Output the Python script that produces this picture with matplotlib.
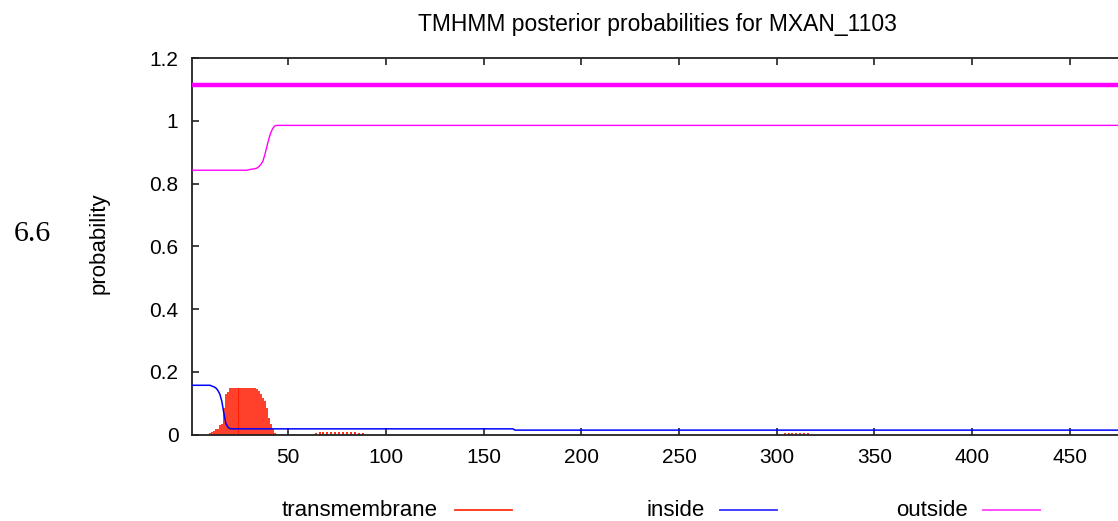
import numpy as np
import matplotlib
matplotlib.use("Agg")
import matplotlib.pyplot as plt
from matplotlib.lines import Line2D

# ---------------- data ----------------
seq_len = 480

# transmembrane posterior (residue -> probability)
tm_res = [10, 11, 12, 13, 14, 15, 16, 17, 18, 19, 20, 21, 22, 23, 24, 25, 26, 27,
          28, 29, 30, 31, 32, 33, 34, 35, 36, 37, 38, 39, 40, 41, 42, 43]
tm_val = [0.005, 0.008, 0.010, 0.016, 0.018, 0.030, 0.034, 0.085, 0.128, 0.135,
          0.147, 0.147, 0.147, 0.147, 0.147, 0.147, 0.147, 0.147, 0.147, 0.147,
          0.147, 0.147, 0.147, 0.147, 0.145, 0.140, 0.128, 0.115, 0.106, 0.085,
          0.053, 0.032, 0.016, 0.005]
tm_small_res = [64, 66, 68, 70, 72, 74, 76, 78, 80, 82, 84, 86, 88,
                304, 306, 308, 310, 312, 314, 316]
tm_small_val = [0.006, 0.007, 0.007, 0.007, 0.007, 0.007, 0.007, 0.007, 0.007,
                0.007, 0.007, 0.006, 0.005,
                0.005, 0.006, 0.006, 0.006, 0.006, 0.006, 0.005]

# inside posterior: key points (residue, value)
inside_res = [1, 10, 11, 12, 13, 14, 15, 16, 17, 18, 19, 20, 21, 165, 166, 480]
inside_val = [0.157, 0.157, 0.154, 0.152, 0.148, 0.140, 0.128, 0.105, 0.068,
              0.036, 0.024, 0.019, 0.018, 0.018, 0.014, 0.014]

# outside posterior: key points (residue, value)
outside_res = [1, 29, 30, 33, 34, 35, 36, 37, 38, 39, 40, 41, 42, 43, 44, 480]
outside_val = [0.843, 0.843, 0.845, 0.848, 0.850, 0.855, 0.862, 0.872, 0.893,
               0.918, 0.942, 0.962, 0.976, 0.984, 0.986, 0.986]

# predicted topology line (whole sequence outside)
topo_level = 1.115

xticks = [50, 100, 150, 200, 250, 300, 350, 400, 450]
yticks = [0, 0.2, 0.4, 0.6, 0.8, 1.0, 1.2]
ytick_labels = ["0", "0.2", "0.4", "0.6", "0.8", "1", "1.2"]

# ---------------- figure ----------------
W, H = 1118, 521
fig = plt.figure(figsize=(W / 100, H / 100), dpi=100)
ax_left, ax_right = 191.6 / W, 1128.5 / W
ax_bottom, ax_top = 1 - 434.5 / H, 1 - 58.3 / H
ax = fig.add_axes([ax_left, ax_bottom, ax_right - ax_left, ax_top - ax_bottom])

font = "Liberation Sans"

# transmembrane impulses
ax.vlines(tm_res, 0, tm_val, color="#ff1a00", lw=1.2, zorder=2)
ax.vlines(tm_small_res, 0, tm_small_val, color="#ff1a00", lw=1.3, zorder=2)

# inside / outside lines
ax.plot(inside_res, inside_val, color="#0000ff", lw=1.1, zorder=3)
ax.plot(outside_res, outside_val, color="#ff00ff", lw=1.0, zorder=3)
ax.plot([0.5, seq_len], [topo_level, topo_level], color="#ff00ff", lw=3.2,
        solid_capstyle="butt", zorder=3)

ax.set_xlim(0.5, seq_len)
ax.set_ylim(0, 1.2)
ax.set_xticks(xticks)
ax.set_xticklabels([str(t) for t in xticks], fontfamily=font, fontsize=15)
ax.set_yticks(yticks)
ax.set_yticklabels(ytick_labels, fontfamily=font, fontsize=15)
ax.tick_params(direction="in", length=5, width=1.2, top=True, right=True,
               color="#222222")
ax.tick_params(axis="y", pad=9.5)
ax.tick_params(axis="x", pad=10)
for s in ax.spines.values():
    s.set_linewidth(1.3)
    s.set_color("#222222")

fig.text(99 / W, 1 - 243 / H, "probability", rotation=90, ha="center",
         va="center", fontfamily=font, fontsize=16)

fig.text(657 / W, 1 - 25 / H, "TMHMM posterior probabilities for MXAN_1103",
         ha="center", va="center", fontfamily=font, fontsize=16.5)

fig.text(32 / W, 1 - 234 / H, "6.6", ha="center", va="center",
         fontfamily="Liberation Serif", fontsize=21.5)

# legend at bottom
leg_y = 1 - 510 / H
legend_items = [("transmembrane", "#ff3010", 438, 455, 512),
                ("inside", "#3030ff", 705, 720, 777),
                ("outside", "#ff40ff", 968, 983, 1040)]
for label, col, tx, x0, x1 in legend_items:
    fig.text(tx / W, leg_y, label, ha="right", va="center",
             fontfamily=font, fontsize=16)
    fig.add_artist(Line2D([x0 / W, x1 / W], [leg_y, leg_y], color=col, lw=1.3))

fig.savefig("out.png", dpi=100)
